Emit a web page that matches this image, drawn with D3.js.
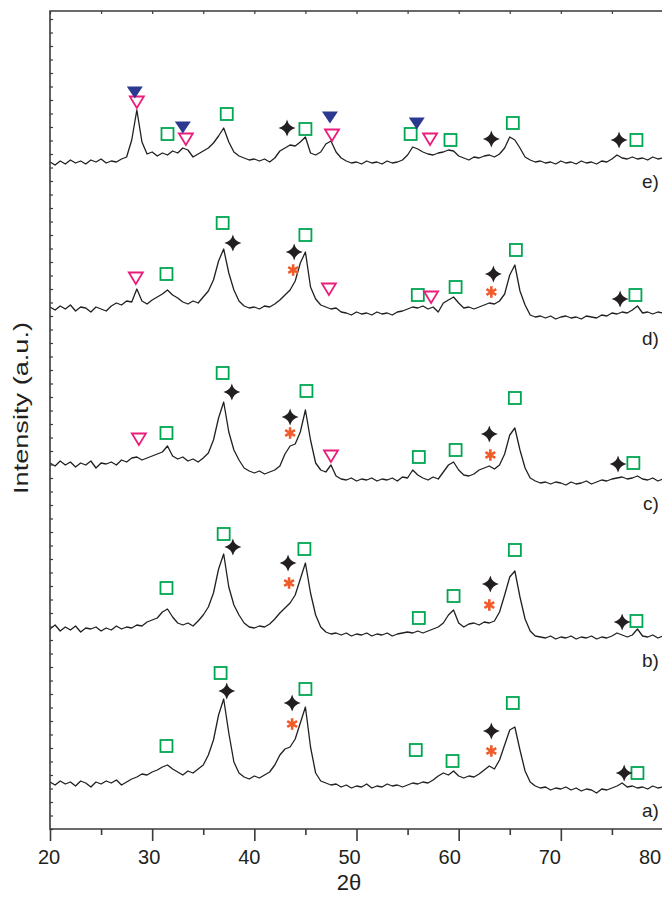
<!DOCTYPE html>
<html>
<head>
<meta charset="utf-8">
<title>XRD patterns a) - e)</title>
<script src="https://d3js.org/d3.v7.min.js"></script>
<style>
  body { margin: 0; background: #fff; }
  svg text { font-family: "Liberation Sans", Arial, sans-serif; fill: #231f20; }
</style>
</head>
<body>
<svg id="chart" width="662" height="898"></svg>
<script>
// 2theta grid: 20 .. 80 in 0.5 steps, intensities (a.u.)
const thetaStart = 20, thetaStep = 0.5;

const traceA = [
  13, 10, 14, 11, 13, 9, 14, 12, 8, 13, 11, 14, 12, 15, 10, 13, 16, 18, 21, 20,
  23, 25, 28, 30, 26, 23, 20, 24, 22, 26, 30, 40, 55, 80, 96, 62, 33, 22, 18, 16,
  19, 17, 20, 23, 30, 40, 46, 48, 56, 72, 88, 48, 22, 14, 12, 10, 11, 8, 10, 7,
  9, 8, 11, 7, 9, 8, 11, 9, 10, 8, 10, 12, 11, 13, 12, 15, 19, 22, 20, 24,
  19, 17, 19, 18, 21, 25, 29, 26, 35, 50, 65, 68, 45, 24, 13, 9, 7, 8, 5, 7,
  6, 8, 5, 7, 4, 6, 5, 2, 6, 5, 7, 9, 12, 8, 9, 7, 8, 6, 9, 7, 8
];
const traceB = [
  16, 20, 14, 18, 15, 19, 13, 17, 16, 18, 14, 17, 15, 19, 16, 18, 17, 20, 19, 23,
  25, 27, 33, 36, 28, 22, 20, 22, 19, 24, 30, 38, 52, 76, 91, 58, 40, 30, 22, 18,
  17, 19, 18, 21, 26, 32, 37, 42, 50, 66, 82, 52, 30, 18, 13, 11, 12, 10, 12, 9,
  11, 10, 12, 9, 11, 10, 12, 9, 11, 12, 13, 12, 14, 12, 14, 16, 18, 22, 30, 35,
  22, 18, 21, 22, 20, 23, 22, 24, 33, 50, 68, 74, 48, 26, 14, 9, 8, 7, 9, 6,
  8, 7, 9, 6, 8, 7, 9, 6, 8, 7, 9, 12, 10, 8, 10, 16, 9, 8, 10, 7, 9
];
const traceC = [
  27, 24, 29, 25, 28, 23, 27, 25, 29, 22, 27, 26, 28, 25, 30, 28, 32, 33, 30, 32,
  34, 36, 38, 44, 34, 31, 33, 29, 31, 28, 32, 37, 50, 72, 88, 58, 40, 30, 22, 19,
  17, 19, 16, 18, 20, 24, 36, 44, 46, 58, 80, 50, 27, 20, 18, 25, 14, 11, 10, 12,
  9, 11, 10, 12, 9, 11, 10, 12, 9, 13, 12, 20, 15, 12, 10, 13, 11, 18, 25, 28,
  20, 15, 14, 16, 20, 22, 24, 21, 25, 36, 55, 62, 40, 22, 12, 9, 7, 8, 6, 8,
  7, 5, 8, 6, 7, 9, 6, 8, 10, 9, 11, 12, 13, 11, 12, 14, 11, 10, 12, 9, 11
];
const traceD = [
  18, 15, 19, 16, 20, 14, 18, 17, 13, 18, 16, 14, 19, 22, 20, 24, 23, 36, 24, 21,
  25, 28, 31, 35, 30, 27, 23, 21, 24, 22, 28, 34, 45, 64, 76, 52, 35, 24, 19, 17,
  18, 16, 19, 18, 21, 25, 30, 35, 44, 62, 73, 38, 26, 20, 18, 16, 17, 13, 12, 10,
  13, 11, 12, 10, 13, 11, 12, 10, 13, 14, 16, 18, 17, 19, 16, 18, 13, 22, 25, 28,
  22, 17, 18, 16, 18, 20, 22, 21, 24, 31, 50, 60, 34, 20, 10, 8, 9, 7, 9, 6,
  8, 9, 7, 8, 6, 9, 8, 7, 10, 9, 12, 11, 13, 12, 15, 19, 12, 13, 11, 13, 12
];
const traceE = [
  8, 5, 9, 6, 10, 7, 9, 6, 10, 8, 11, 7, 9, 8, 11, 13, 30, 60, 28, 16,
  18, 14, 17, 15, 19, 17, 22, 20, 13, 16, 19, 22, 27, 34, 42, 28, 18, 14, 12, 10,
  11, 9, 11, 8, 12, 19, 22, 25, 24, 28, 33, 17, 15, 18, 26, 29, 18, 12, 9, 7,
  8, 6, 9, 7, 8, 6, 9, 7, 8, 10, 15, 23, 21, 18, 16, 15, 17, 18, 20, 19,
  14, 12, 10, 13, 12, 14, 15, 13, 16, 22, 33, 30, 22, 13, 10, 8, 9, 7, 8, 6,
  9, 7, 8, 6, 9, 7, 8, 6, 9, 8, 11, 15, 12, 11, 13, 11, 12, 10, 13, 11, 12
];

const traceNames = ["a)", "b)", "c)", "d)", "e)"];
const traceOffsets = [34, 184, 339, 504, 659];
const labelLevels = [17, 167, 324, 489, 646];

// phase markers: [2theta, stacked intensity]
const squares = [
  [31.5, 695], [37.3, 715], [45.0, 700], [55.3, 695], [59.2, 689], [65.3, 706], [77.4, 689],
  [31.4, 555], [36.9, 606], [45.0, 594], [56.0, 534], [59.7, 542], [65.6, 579], [77.3, 534],
  [31.4, 396], [36.9, 456], [45.1, 438], [56.1, 372], [59.7, 379], [65.5, 431], [77.1, 366],
  [31.4, 241], [37.0, 295], [44.9, 280], [56.1, 211], [59.5, 233], [65.5, 279], [77.4, 208],
  [31.4, 83], [36.7, 156], [45.0, 140], [55.8, 79], [59.4, 68], [65.3, 126], [77.5, 56]
];
const stars = [
  [43.2, 701], [63.2, 690], [75.7, 689],
  [37.9, 586], [43.9, 577], [63.4, 555], [75.8, 530],
  [37.8, 437], [43.5, 412], [63.0, 395], [75.6, 365],
  [37.9, 282], [43.3, 266], [63.1, 245], [76.0, 207],
  [37.3, 138], [43.7, 126], [63.2, 98], [76.2, 56]
];
const asterisks = [
  [43.8, 559], [63.2, 537],
  [43.5, 396], [63.1, 374],
  [43.4, 246], [63.0, 224],
  [43.7, 105], [63.2, 78]
];
const openTriangles = [
  [28.5, 727], [33.3, 690], [47.6, 694], [57.2, 690],
  [28.4, 551], [47.3, 540], [57.3, 532],
  [28.7, 390], [47.5, 373]
];
const filledTriangles = [[28.3, 737], [33.0, 702], [47.4, 712], [55.9, 706]];

const xMajor = [20, 30, 40, 50, 60, 70, 80];
const xMinor = [25, 35, 45, 55, 65, 75];

const svg = d3.select("#chart");
const x = d3.scaleLinear().domain([20, 80]).range([50, 663]);
const y = d3.scaleLinear().domain([0, 818]).range([829, 11]);

svg.append("defs").append("clipPath").attr("id", "plot")
  .append("rect").attr("x", 50).attr("y", 11).attr("width", 613).attr("height", 818);

const line = (off) => d3.line()
  .x((d, i) => x(thetaStart + i * thetaStep))
  .y(d => y(d + off));

const traces = [traceA, traceB, traceC, traceD, traceE];
svg.append("g").attr("clip-path", "url(#plot)")
  .selectAll("path").data(traces).join("path")
  .attr("d", (d, i) => line(traceOffsets[i])(d))
  .attr("fill", "none")
  .attr("stroke", "#231f20")
  .attr("stroke-width", 1.3)
  .attr("stroke-linejoin", "round");

// frame
svg.append("path")
  .attr("d", `M${x(80)},${y(818)}H${x(20)}V${y(0)}H${x(80)}`)
  .attr("fill", "none").attr("stroke", "#3a3a3a").attr("stroke-width", 1.6);

// x axis
const axMajor = svg.append("g").attr("transform", `translate(0,${y(0)})`)
  .call(d3.axisBottom(x).tickValues(xMajor).tickSize(12).tickPadding(9));
const axMinor = svg.append("g").attr("transform", `translate(0,${y(0)})`)
  .call(d3.axisBottom(x).tickValues(xMinor).tickSize(6).tickFormat(""));
[axMajor, axMinor].forEach(g => {
  g.select(".domain").remove();
  g.selectAll("line").attr("stroke", "#3a3a3a").attr("stroke-width", 1.6);
});
// the printed labels sit a little left of their ticks, more so to the right
axMajor.selectAll("text").attr("font-size", 20).attr("fill", "#231f20")
  .attr("font-family", "Liberation Sans, Arial, sans-serif")
  .attr("dx", d => -1.5 - (d - 20) / 5);

// top minor ticks
const axTop = svg.append("g").attr("transform", `translate(0,${y(818)})`)
  .call(d3.axisBottom(x).tickValues(xMajor.concat(xMinor)).tickSize(3).tickFormat(""));
axTop.select(".domain").remove();
axTop.selectAll("line").attr("stroke", "#3a3a3a").attr("stroke-width", 1.2);

// y axis minor ticks (no labels)
const yTicks = d3.range(0, 818, 13.5);
const axY = svg.append("g").attr("transform", `translate(${x(20)},0)`)
  .call(d3.axisRight(y).tickValues(yTicks).tickSize(3).tickFormat(""));
axY.select(".domain").remove();
axY.selectAll("line").attr("stroke", "#3a3a3a").attr("stroke-width", 1.2);

// markers
const mk = svg.append("g");
mk.selectAll(".sq").data(squares).join("rect")
  .attr("x", d => x(d[0]) - 6).attr("y", d => y(d[1]) - 6)
  .attr("width", 12).attr("height", 12)
  .attr("fill", "none").attr("stroke", "#00a651").attr("stroke-width", 1.8);

const starPath = "M0,-8.5Q1.6,-1.6 8.5,0Q1.6,1.6 0,8.5Q-1.6,1.6 -8.5,0Q-1.6,-1.6 0,-8.5Z";
mk.selectAll(".st").data(stars).join("path")
  .attr("d", starPath)
  .attr("transform", d => `translate(${x(d[0])},${y(d[1])})`)
  .attr("fill", "#231f20");

mk.selectAll(".as").data(asterisks).join("path")
  .attr("d", d3.symbol(d3.symbolAsterisk, 90))
  .attr("transform", d => `translate(${x(d[0])},${y(d[1])})`)
  .attr("fill", "none").attr("stroke", "#f15a29").attr("stroke-width", 2.6);

const triPath = "M-7,-5.5H7L0,6Z";
mk.selectAll(".ot").data(openTriangles).join("path")
  .attr("d", triPath)
  .attr("transform", d => `translate(${x(d[0])},${y(d[1])})`)
  .attr("fill", "none").attr("stroke", "#ec1c7a").attr("stroke-width", 1.8)
  .attr("stroke-linejoin", "miter");

mk.selectAll(".ft").data(filledTriangles).join("path")
  .attr("d", "M-8,-5.5H8L0,6.5Z")
  .attr("transform", d => `translate(${x(d[0])},${y(d[1])})`)
  .attr("fill", "#2b3990");

// trace labels
svg.append("g").selectAll("text").data(traceNames).join("text")
  .attr("x", x(79.6)).attr("y", (d, i) => y(labelLevels[i]))
  .attr("text-anchor", "end").attr("dominant-baseline", "middle")
  .attr("font-size", 19)
  .text(d => d);

// axis titles
svg.append("text")
  .attr("transform", `translate(28,${y(421)}) rotate(-90)`)
  .attr("text-anchor", "middle").attr("font-size", 21)
  .attr("textLength", 172).attr("lengthAdjust", "spacingAndGlyphs")
  .text("Intensity (a.u.)");
svg.append("text")
  .attr("x", 349).attr("y", 890)
  .attr("text-anchor", "middle").attr("font-size", 22)
  .text("2θ");
</script>
</body>
</html>
